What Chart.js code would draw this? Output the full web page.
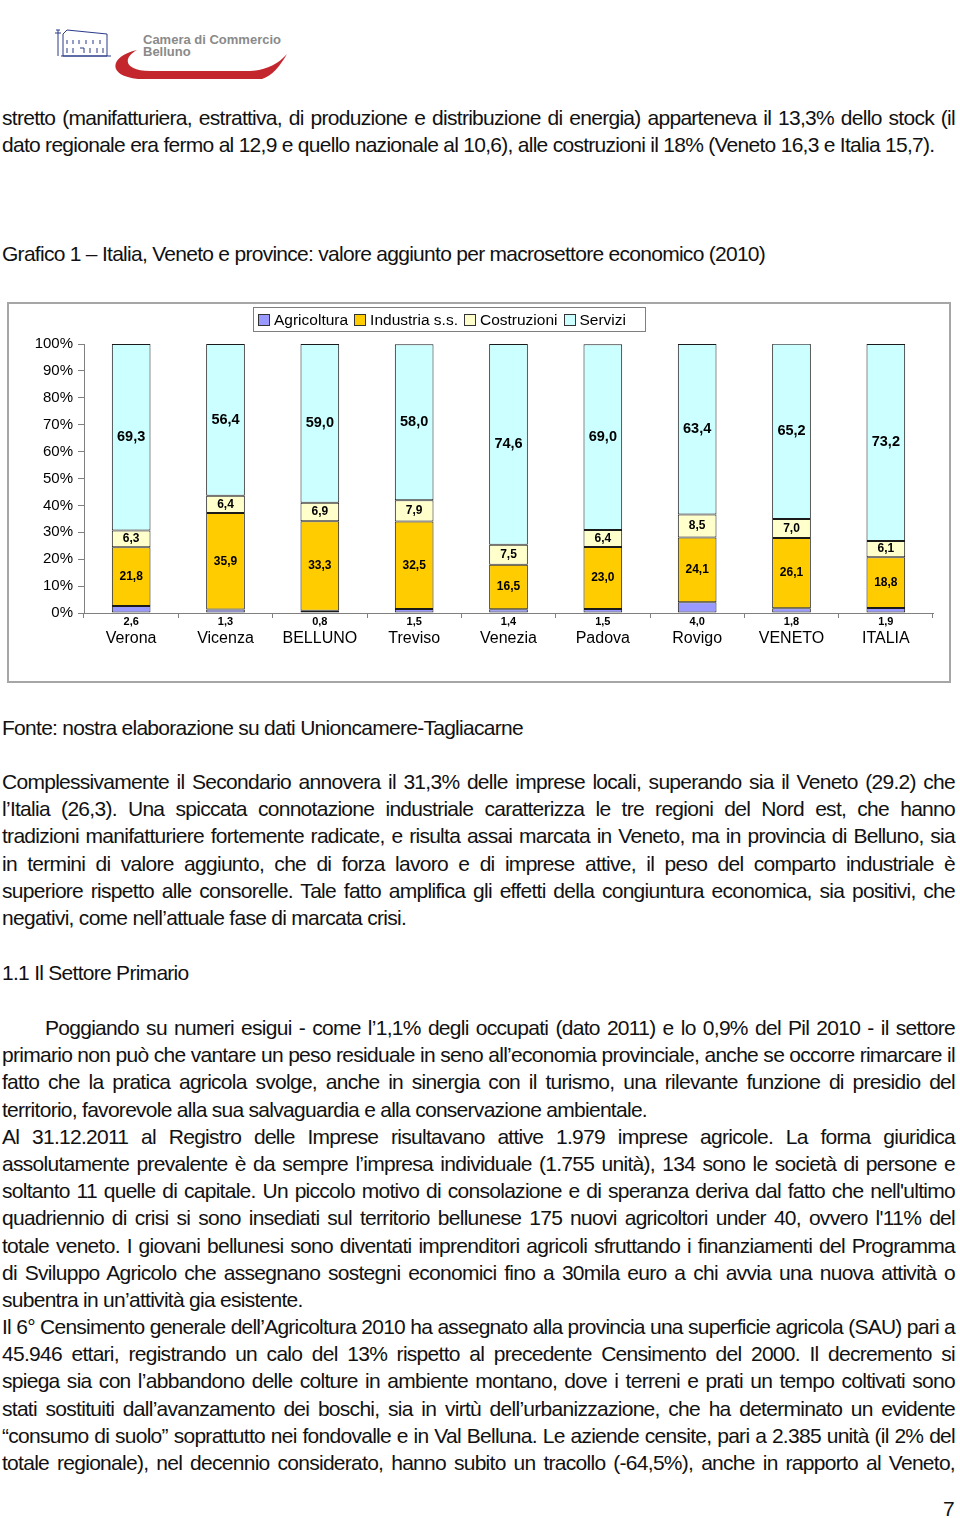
<!DOCTYPE html>
<html lang="it">
<head>
<meta charset="utf-8">
<title>Grafico 1 - valore aggiunto per macrosettore</title>
<script src="https://cdn.jsdelivr.net/npm/chart.js@4.4.1/dist/chart.umd.min.js"></script>
<style>
  html, body { margin: 0; padding: 0; background: #fff; }
  body { width: 960px; height: 1518px; position: relative; overflow: hidden; color: #111; }
  .blk { position: absolute; left: 2px; width: 953px; font-family: 'Liberation Sans', Arial, sans-serif; font-size: 21px; letter-spacing: -0.72px; line-height: 27.2px; }
  .blk div { white-space: nowrap; height: 27.2px; }
  .blk div.j { white-space: normal; text-align: justify; text-align-last: justify; }
  .logo-text { position: absolute; left: 143px; top: 34px; font: bold 13px/12px 'Liberation Sans', Arial, sans-serif; color: #8a8a8a; }
  .chart-box { position: absolute; left: 7px; top: 302px; width: 940px; height: 377px; border: 2px solid #a6a6a6; }
  #chart { position: absolute; left: 8px; top: 303px; }
  .legend { position: absolute; left: 253px; top: 307px; width: 391px; height: 23px; border: 1px solid #7f7f7f; display: flex; align-items: center; font: 15.5px 'Liberation Sans', Arial, sans-serif; color: #000; }
  .legend span.sq { display: inline-block; width: 10px; height: 10px; border: 1px solid #333; margin: 0 4px 0 4px; }
  .legend span.lb { margin-right: 2px; }
  .pagenum { position: absolute; left: 943px; top: 1497px; font: 21px 'Liberation Sans', Arial, sans-serif; }
</style>
</head>
<body>

<!-- logo -->
<svg width="300" height="90" style="position:absolute;left:0;top:0">
  <g fill="none" stroke="#2a3a8a" stroke-width="1">
    <path d="M58,30 l0,26 M56,30 l4,0 M55,33 l6,0"/>
    <path d="M63,34 l4,-4 l40,4 l0,22 l-44,0 z"/>
    <path d="M67,40 l0,4 M73,40 l0,4 M79,40 l0,4 M86,40 l0,4 M93,40 l0,4 M100,40 l0,4"/>
    <path d="M67,48 l0,5 M73,48 l0,5 M80,48 l4,0 l0,5 M90,48 l0,5 M97,48 l0,5 M103,48 l0,5"/>
    <path d="M61,56 l50,0"/>
  </g>
  <path d="M137,50 C110,56 106,76 138,79 L262,79 C272,76 280,66 287,54 C277,65 266,70 250,71 L150,71 C126,71 121,59 137,50 Z" fill="#c4262e"/>
</svg>
<div class="logo-text">Camera di Commercio<br>Belluno</div>

<div class="blk" style="top:104px">
  <div class="j">stretto (manifatturiera, estrattiva, di produzione e distribuzione di energia) apparteneva il 13,3% dello stock (il</div>
  <div>dato regionale era fermo al 12,9 e quello nazionale al 10,6), alle costruzioni il 18% (Veneto 16,3 e Italia 15,7).</div>
</div>

<div class="blk" style="top:240px">
  <div>Grafico 1 – Italia, Veneto e province: valore aggiunto per macrosettore economico (2010)</div>
</div>

<div class="chart-box"></div>
<canvas id="chart" width="942" height="379"></canvas>
<div class="legend">
  <span class="sq" style="background:#9999ff"></span><span class="lb">Agricoltura</span>
  <span class="sq" style="background:#ffcc00"></span><span class="lb">Industria s.s.</span>
  <span class="sq" style="background:#ffffcc"></span><span class="lb">Costruzioni</span>
  <span class="sq" style="background:#ccffff"></span><span class="lb">Servizi</span>
</div>

<div class="blk" style="top:714px">
  <div>Fonte: nostra elaborazione su dati Unioncamere-Tagliacarne</div>
</div>

<div class="blk" style="top:768px">
  <div class="j">Complessivamente il Secondario annovera il 31,3% delle imprese locali, superando sia il Veneto (29.2) che</div>
  <div class="j">l’Italia (26,3). Una spiccata connotazione industriale caratterizza le tre regioni del Nord est, che hanno</div>
  <div class="j">tradizioni manifatturiere fortemente radicate, e risulta assai marcata in Veneto, ma in provincia di Belluno, sia</div>
  <div class="j">in termini di valore aggiunto, che di forza lavoro e di imprese attive, il peso del comparto industriale è</div>
  <div class="j">superiore rispetto alle consorelle. Tale fatto amplifica gli effetti della congiuntura economica, sia positivi, che</div>
  <div>negativi, come nell’attuale fase di marcata crisi.</div>
</div>

<div class="blk" style="top:959px">
  <div>1.1 Il Settore Primario</div>
</div>

<div class="blk" style="top:1014px">
  <div class="j" style="text-indent:43px">Poggiando su numeri esigui - come l’1,1% degli occupati (dato 2011) e lo 0,9% del Pil 2010 - il settore</div>
  <div class="j">primario non può che vantare un peso residuale in seno all’economia provinciale, anche se occorre rimarcare il</div>
  <div class="j">fatto che la pratica agricola svolge, anche in sinergia con il turismo, una rilevante funzione di presidio del</div>
  <div>territorio, favorevole alla sua salvaguardia e alla conservazione ambientale.</div>
  <div class="j">Al 31.12.2011 al Registro delle Imprese risultavano attive 1.979 imprese agricole. La forma giuridica</div>
  <div class="j">assolutamente prevalente è da sempre l’impresa individuale (1.755 unità), 134 sono le società di persone e</div>
  <div class="j">soltanto 11 quelle di capitale. Un piccolo motivo di consolazione e di speranza deriva dal fatto che nell'ultimo</div>
  <div class="j">quadriennio di crisi si sono insediati sul territorio bellunese 175 nuovi agricoltori under 40, ovvero l'11% del</div>
  <div class="j">totale veneto. I giovani bellunesi sono diventati imprenditori agricoli sfruttando i finanziamenti del Programma</div>
  <div class="j">di Sviluppo Agricolo che assegnano sostegni economici fino a 30mila euro a chi avvia una nuova attività o</div>
  <div>subentra in un’attività gia esistente.</div>
  <div class="j">Il 6° Censimento generale dell’Agricoltura 2010 ha assegnato alla provincia una superficie agricola (SAU) pari a</div>
  <div class="j">45.946 ettari, registrando un calo del 13% rispetto al precedente Censimento del 2000. Il decremento si</div>
  <div class="j">spiega sia con l’abbandono delle colture in ambiente montano, dove i terreni e prati un tempo coltivati sono</div>
  <div class="j">stati sostituiti dall’avanzamento dei boschi, sia in virtù dell’urbanizzazione, che ha determinato un evidente</div>
  <div class="j">“consumo di suolo” soprattutto nei fondovalle e in Val Belluna. Le aziende censite, pari a 2.385 unità (il 2% del</div>
  <div class="j">totale regionale), nel decennio considerato, hanno subito un tracollo (-64,5%), anche in rapporto al Veneto,</div>
</div>

<div class="pagenum">7</div>

<script>
// keep every justified line on one row: tighten it a little if it wraps
document.querySelectorAll('.blk div.j').forEach(el => {
  el.style.height = 'auto';
  let ls = -0.72;
  while (el.getBoundingClientRect().height > 30 && ls > -2) {
    ls -= 0.05;
    el.style.letterSpacing = ls + 'px';
  }
  el.style.height = '';
});

const categories = ['Verona', 'Vicenza', 'BELLUNO', 'Treviso', 'Venezia', 'Padova', 'Rovigo', 'VENETO', 'ITALIA'];
const agricoltura = [2.6, 1.3, 0.8, 1.5, 1.4, 1.5, 4.0, 1.8, 1.9];
const industria = [21.8, 35.9, 33.3, 32.5, 16.5, 23.0, 24.1, 26.1, 18.8];
const costruzioni = [6.3, 6.4, 6.9, 7.9, 7.5, 6.4, 8.5, 7.0, 6.1];
const servizi = [69.3, 56.4, 59.0, 58.0, 74.6, 69.0, 63.4, 65.2, 73.2];
const seriesNames = ['Agricoltura', 'Industria s.s.', 'Costruzioni', 'Servizi'];
const seriesColors = ['#9999ff', '#ffcc00', '#ffffcc', '#ccffff'];

const fontFam = "'Liberation Sans', Arial, sans-serif";
const fmt = v => v.toFixed(1).replace('.', ',');

// value labels: inside the segments, agricoltura under the axis
const valueLabels = {
  id: 'valueLabels',
  afterDatasetsDraw(chart) {
    const ctx = chart.ctx;
    ctx.save();
    ctx.fillStyle = '#000';
    ctx.textAlign = 'center';
    ctx.textBaseline = 'middle';
    chart.data.datasets.forEach((ds, di) => {
      const meta = chart.getDatasetMeta(di);
      meta.data.forEach((bar, i) => {
        const txt = fmt(ds.data[i]);
        if (di === 0) {
          ctx.font = 'bold 11px ' + fontFam;
          ctx.fillText(txt, bar.x, chart.chartArea.bottom + 9);
        } else {
          ctx.font = (di === 3 ? 'bold 14.5px ' : 'bold 12px ') + fontFam;
          ctx.fillText(txt, bar.x, (bar.y + bar.base) / 2);
        }
      });
    });
    ctx.restore();
  }
};

const allSeries = [agricoltura, industria, costruzioni, servizi];

new Chart(document.getElementById('chart'), {
  type: 'bar',
  data: {
    labels: categories,
    datasets: allSeries.map((d, i) => ({
      label: seriesNames[i],
      data: d,
      backgroundColor: seriesColors[i],
      borderColor: '#1a1a1a',
      borderWidth: 1,
      borderSkipped: false,
      categoryPercentage: 1,
      barPercentage: 0.41,
    })),
  },
  options: {
    responsive: false,
    animation: false,
    layout: { padding: { top: 41, right: 17, bottom: 0, left: 0 } },
    plugins: {
      legend: { display: false },
      tooltip: { enabled: false },
    },
    scales: {
      x: {
        stacked: true,
        grid: { offset: true, drawOnChartArea: false, tickLength: 5, color: '#808080' },
        border: { color: '#808080' },
        ticks: { color: '#000', font: { size: 16, family: fontFam }, padding: 11 },
        afterFit: s => { s.height = 69; },
      },
      y: {
        stacked: true,
        min: 0,
        max: 100,
        grid: { drawOnChartArea: false, tickLength: 6, color: '#808080' },
        border: { color: '#808080' },
        ticks: { stepSize: 10, color: '#000', font: { size: 15, family: fontFam }, padding: 5, callback: v => v + '%' },
        afterFit: s => { s.width = 76; },
      },
    },
  },
  plugins: [valueLabels],
});
</script>
</body>
</html>
